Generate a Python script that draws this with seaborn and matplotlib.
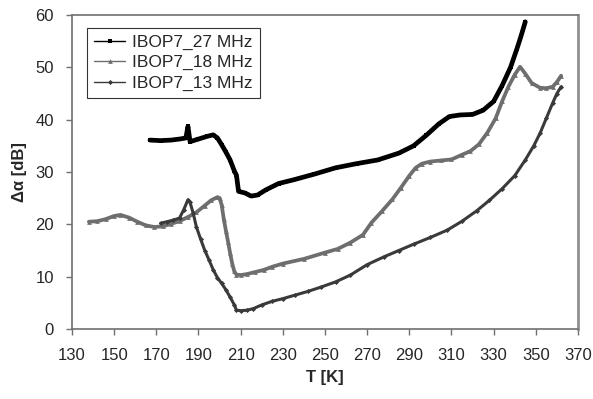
import pandas as pd
import seaborn as sns
import matplotlib.pyplot as plt

# data
t_27 = [167, 172, 177, 181, 184, 185, 186, 190, 194, 197, 199, 201, 203, 205, 207, 208,
        209, 212, 215, 218, 222, 228, 235, 245, 255, 265, 275, 285, 292, 298, 304, 309,
        314, 320, 325, 330, 334, 338, 341, 343, 345]
a_27 = [36.1, 36.0, 36.1, 36.3, 36.5, 38.7, 35.8, 36.3, 36.8, 37.1, 36.5, 35.2, 33.8, 32.3,
        30.2, 29.4, 26.3, 26.0, 25.4, 25.6, 26.6, 27.8, 28.5, 29.6, 30.8, 31.6, 32.3, 33.6,
        35.0, 37.0, 39.2, 40.6, 40.9, 41.0, 41.8, 43.5, 46.5, 50.0, 53.5, 56.0, 58.7]

t_18 = [138, 142, 146, 150, 153, 157, 161, 165, 169, 173, 177, 181, 185, 189, 193, 196,
        199, 200, 201, 202, 203, 204, 205, 206, 207, 208, 210, 213, 217, 221, 225, 230,
        240, 250, 256, 262, 268, 272, 277, 282, 286, 290, 293, 296, 300, 305, 310, 315,
        319, 323, 327, 331, 334, 337, 340, 342.5, 345, 348, 352, 355, 358, 360, 362]
a_18 = [20.5, 20.6, 21.0, 21.6, 21.8, 21.3, 20.5, 19.8, 19.5, 19.6, 20.1, 20.6, 21.4, 22.3,
        23.6, 24.6, 25.2, 25.0, 23.7, 21.0, 18.8, 16.7, 14.5, 12.5, 11.0, 10.4, 10.3, 10.5,
        10.9, 11.3, 11.9, 12.5, 13.4, 14.6, 15.3, 16.5, 18.0, 20.3, 22.5, 24.8, 27.0, 29.3,
        30.8, 31.6, 32.0, 32.2, 32.4, 33.3, 34.0, 35.3, 37.5, 40.3, 43.5, 46.3, 48.6, 50.1,
        48.8, 47.0, 46.1, 46.0, 46.3, 47.2, 48.4]

t_13 = [172, 175, 178, 181, 183, 185, 186, 187.5, 189, 191, 193, 195, 197, 199, 201, 203,
        205, 207, 208, 210, 213, 216, 220, 225, 230, 236, 242, 248, 255, 262, 270, 278,
        285, 292, 300, 308, 315, 322, 328, 334, 340, 345, 349, 352, 355, 358, 360, 362]
a_13 = [20.2, 20.5, 20.8, 21.2, 22.8, 24.7, 24.2, 22.1, 19.5, 17.2, 15.0, 13.2, 11.3, 9.8,
        8.7, 7.5, 6.1, 4.6, 3.6, 3.5, 3.6, 3.9, 4.6, 5.3, 5.8, 6.5, 7.2, 8.0, 9.0, 10.3,
        12.3, 13.8, 15.0, 16.2, 17.5, 18.9, 20.6, 22.6, 24.6, 26.8, 29.3, 32.3, 35.0, 37.4,
        40.3, 43.2, 45.0, 46.3]

x_ticks = list(range(130, 371, 20))
y_ticks = list(range(0, 61, 10))

sns.set_theme(style="white")
plt.rcParams['font.family'] = ['Liberation Sans', 'DejaVu Sans']

fig = plt.figure(figsize=(5.93, 3.99), dpi=100)
ax = fig.add_axes([0.1214, 0.1754, 0.8533, 0.787])

series = [
    ('IBOP7_27 MHz', t_27, a_27, '#000000', 's', 3.4, 3.0),
    ('IBOP7_18 MHz', t_18, a_18, '#6e6e6e', '^', 2.7, 3.4),
    ('IBOP7_13 MHz', t_13, a_13, '#3a3a3a', 'D', 2.2, 2.6),
]
for name, t, a, col, mk, lw, ms in series:
    df = pd.DataFrame({'T': t, 'a': a})
    sns.lineplot(data=df, x='T', y='a', ax=ax, color=col, lw=lw, marker=mk,
                 markersize=ms, markeredgewidth=0, sort=False, estimator=None,
                 label=name)

ax.set_xlim(130, 370)
ax.set_ylim(0, 60)
ax.set_xticks(x_ticks)
ax.set_yticks(y_ticks)
ax.tick_params(axis='both', direction='out', length=4, width=1, color='#707070',
               labelsize=12, bottom=True, left=True)
ax.tick_params(axis='x', pad=10)
ax.tick_params(axis='y', pad=9)
for s in ax.spines.values():
    s.set_color('#707070')
    s.set_linewidth(1.2)
ax.spines['right'].set_color('#909090')
ax.spines['right'].set_linewidth(2)

ax.set_xlabel('T [K]', fontsize=12, fontweight='bold', labelpad=5)
ax.set_ylabel('Δα [dB]', fontsize=12, fontweight='bold', labelpad=6)

leg = ax.legend(loc='upper left', bbox_to_anchor=(0.03, 0.96), borderaxespad=0,
                fontsize=12.5, frameon=True, fancybox=False, handlelength=1.8,
                handletextpad=0.4, labelspacing=0.3, borderpad=0.4)
leg.get_frame().set_edgecolor('#000000')
leg.get_frame().set_linewidth(0.8)
for ln in leg.get_lines():
    ln.set_linewidth(1)

plt.savefig('out.png', dpi=100)
plt.close()
